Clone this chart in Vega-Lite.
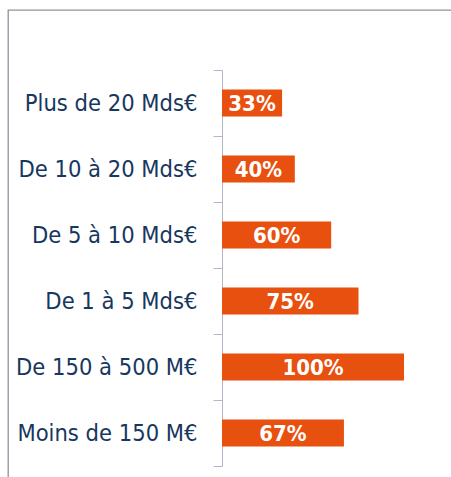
{
  "$schema": "https://vega.github.io/schema/vega-lite/v6.json",
  "width": 451,
  "height": 477,
  "autosize": {"type": "fit", "contains": "padding"},
  "padding": {"left": 8, "top": -2, "right": -6, "bottom": -6},
  "config": {"view": {"stroke": "#8E929C", "strokeWidth": 1.3}},
  "data": {
    "values": [
      {"cat": "Plus de 20 Mds€", "pct": 0.33},
      {"cat": "De 10 à 20 Mds€", "pct": 0.40},
      {"cat": "De 5 à 10 Mds€", "pct": 0.60},
      {"cat": "De 1 à 5 Mds€", "pct": 0.75},
      {"cat": "De 150 à 500 M€", "pct": 1.00},
      {"cat": "Moins de 150 M€", "pct": 0.67}
    ]
  },
  "encoding": {
    "y": {
      "field": "cat",
      "type": "nominal",
      "sort": null,
      "scale": {"range": [60, 456], "paddingInner": 0, "paddingOuter": 0},
      "axis": {
        "title": null,
        "orient": "left",
        "offset": -214,
        "tickBand": "extent",
        "tickSize": 9,
        "labelPadding": 16,
        "domainColor": "#B4B6C8",
        "tickColor": "#B4B6C8",
        "labelColor": "#17375E",
        "labelFont": "DejaVu Sans Condensed",
        "labelFontSize": 23.5,
        "labelLimit": 400
      }
    }
  },
  "layer": [
    {
      "mark": {"type": "bar", "color": "#E8500F", "height": {"band": 0.41}},
      "encoding": {
        "x": {"field": "pct", "type": "quantitative", "scale": {"domain": [0, 1], "range": [214, 396]}, "axis": null}
      }
    },
    {
      "mark": {
        "type": "text",
        "color": "white",
        "fontWeight": "bold",
        "font": "DejaVu Sans Condensed",
        "fontSize": 22,
        "align": "center",
        "baseline": "middle",
        "dy": 1
      },
      "encoding": {
        "x": {"field": "pct", "type": "quantitative", "scale": {"domain": [0, 2], "range": [214, 396]}, "axis": null},
        "text": {"field": "pct", "type": "quantitative", "format": ".0%"}
      }
    }
  ],
  "resolve": {"scale": {"x": "independent"}}
}
